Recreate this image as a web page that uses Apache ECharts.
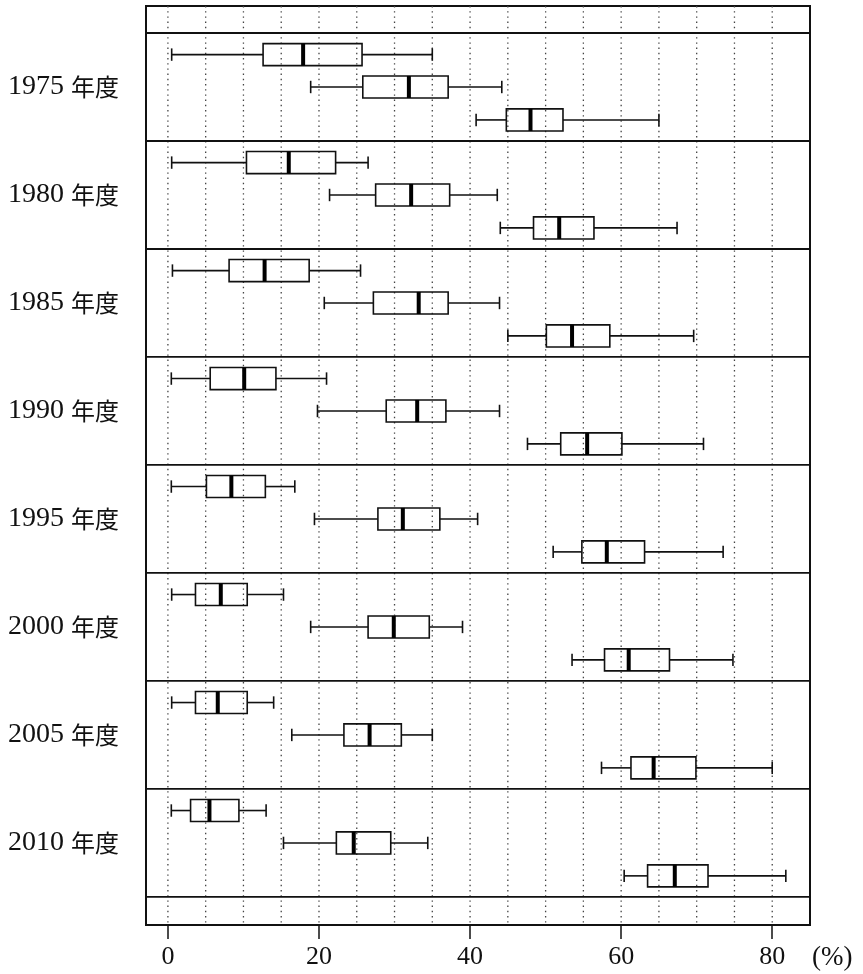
<!DOCTYPE html>
<html><head><meta charset="utf-8">
<script src="https://cdn.jsdelivr.net/npm/echarts@6/dist/echarts.min.js"></script>
<style>html,body{margin:0;padding:0;background:#fff}#c{width:863px;height:974px}</style>
</head><body><div id="c"></div>
<script>
// ---- data ----
const years = ['1975', '1980', '1985', '1990', '1995', '2000', '2005', '2010'];
// [lower whisker, Q1, median, Q3, upper whisker] in %
const primary = [
  [0.5, 12.6, 17.9, 25.7, 35.0],
  [0.5, 10.4, 16.0, 22.2, 26.5],
  [0.6, 8.1, 12.8, 18.7, 25.5],
  [0.45, 5.6, 10.1, 14.3, 21.0],
  [0.45, 5.1, 8.4, 12.9, 16.8],
  [0.5, 3.65, 7.0, 10.5, 15.3],
  [0.5, 3.65, 6.6, 10.5, 14.0],
  [0.45, 3.0, 5.5, 9.4, 13.0]
];
const secondary = [
  [18.9, 25.8, 31.9, 37.1, 44.2],
  [21.4, 27.5, 32.2, 37.3, 43.6],
  [20.7, 27.2, 33.2, 37.1, 43.9],
  [19.8, 28.9, 33.0, 36.8, 43.9],
  [19.4, 27.8, 31.1, 36.0, 41.0],
  [18.9, 26.5, 29.9, 34.6, 39.0],
  [16.4, 23.3, 26.7, 30.9, 35.0],
  [15.3, 22.3, 24.6, 29.5, 34.4]
];
const tertiary = [
  [40.8, 44.8, 48.0, 52.3, 65.0],
  [44.0, 48.4, 51.8, 56.4, 67.4],
  [45.0, 50.1, 53.5, 58.5, 69.6],
  [47.6, 52.0, 55.5, 60.1, 70.9],
  [51.0, 54.8, 58.1, 63.1, 73.5],
  [53.5, 57.8, 61.0, 66.4, 74.8],
  [57.4, 61.3, 64.3, 69.9, 80.0],
  [60.4, 63.5, 67.1, 71.5, 81.8]
];
const gridValues = [0, 5, 10, 15, 20, 25, 30, 35, 40, 45, 50, 55, 60, 65, 70, 75, 80];
const tickLabels = [0, 20, 40, 60, 80];

// ---- layout (panel units on the y value axis) ----
const STRIP = 0.25;
const BOX_OFFSETS = [0.2, 0.5, 0.805];
const Y_MAX = 8.51;
const X_MIN = -2.9, X_MAX = 85;

const boxData = [];
[primary, secondary, tertiary].forEach((arr, j) => {
  arr.forEach((v, i) => boxData.push([STRIP + i + BOX_OFFSETS[j]].concat(v)));
});
const sepData = [];
for (let k = 0; k <= years.length; k++) sepData.push([0, STRIP + k]);
const labelPos = years.map((y, i) => STRIP + i + 0.5);

function renderBox(params, api) {
  const y = api.value(0);
  const wl = api.coord([api.value(1), y]);
  const q1 = api.coord([api.value(2), y]);
  const md = api.coord([api.value(3), y]);
  const q3 = api.coord([api.value(4), y]);
  const wh = api.coord([api.value(5), y]);
  const h = api.size([0, 0.204])[1];
  const cap = api.size([0, 0.115])[1];
  const cy = wl[1];
  const ls = { stroke: '#111', lineWidth: 1.6, fill: null };
  return {
    type: 'group', children: [
      { type: 'line', shape: { x1: wl[0], y1: cy, x2: q1[0], y2: cy }, style: ls },
      { type: 'line', shape: { x1: q3[0], y1: cy, x2: wh[0], y2: cy }, style: ls },
      { type: 'line', shape: { x1: wl[0], y1: cy - cap / 2, x2: wl[0], y2: cy + cap / 2 }, style: ls },
      { type: 'line', shape: { x1: wh[0], y1: cy - cap / 2, x2: wh[0], y2: cy + cap / 2 }, style: ls },
      { type: 'rect', shape: { x: q1[0], y: cy - h / 2, width: q3[0] - q1[0], height: h }, style: { stroke: '#111', lineWidth: 1.6, fill: null } },
      { type: 'line', shape: { x1: md[0], y1: cy - h / 2, x2: md[0], y2: cy + h / 2 }, style: { stroke: '#000', lineWidth: 4 } }
    ]
  };
}
function renderGrid(params, api) {
  const p1 = api.coord([api.value(0), 0]);
  const p2 = api.coord([api.value(0), Y_MAX]);
  return { type: 'line', shape: { x1: p1[0], y1: p1[1], x2: p2[0], y2: p2[1] },
    style: { stroke: '#444', lineWidth: 1.3, lineDash: [1.4, 3.8], fill: null } };
}
function renderSep(params, api) {
  const p = api.coord([api.value(0), api.value(1)]);
  const cs = params.coordSys;
  return { type: 'line', shape: { x1: cs.x, y1: p[1], x2: cs.x + cs.width, y2: p[1] },
    style: { stroke: '#111', lineWidth: 1.8, fill: null } };
}

const chart = echarts.init(document.getElementById('c'));
chart.setOption({
  animation: false,
  backgroundColor: '#fff',
  grid: { left: 146, right: 53, top: 6, bottom: 49, show: true, borderColor: '#111', borderWidth: 2, backgroundColor: 'transparent' },
  xAxis: {
    type: 'value', min: X_MIN, max: X_MAX, position: 'bottom',
    axisLine: { show: false, onZero: false },
    splitLine: { show: false },
    axisTick: { show: true, length: 14, lineStyle: { color: '#111', width: 1.5 }, customValues: tickLabels },
    axisLabel: { customValues: tickLabels, margin: 19, color: '#111', fontFamily: 'Liberation Serif', fontSize: 26 }
  },
  yAxis: {
    type: 'value', min: 0, max: Y_MAX, inverse: true,
    axisLine: { show: false, onZero: false }, axisTick: { show: false }, splitLine: { show: false },
    axisLabel: {
      customValues: labelPos, margin: 27, color: '#111',
      formatter: function (v) {
        const i = Math.round(v - STRIP - 0.5);
        return (i >= 0 && i < years.length) ? '{d|' + years[i] + ' }{k|年度}' : '';
      },
      rich: {
        d: { fontFamily: 'Liberation Serif', fontSize: 28, color: '#111' },
        k: { fontFamily: 'Noto Sans CJK JP', fontSize: 24, color: '#111' }
      }
    }
  },
  graphic: [{
    type: 'text', left: 812, top: 944,
    style: { text: '(%)', font: '27px "Liberation Serif"', fill: '#111' }
  }],
  series: [
    { type: 'custom', renderItem: renderGrid, data: gridValues.map(v => [v, 0]), silent: true, z: 1 },
    { type: 'custom', renderItem: renderSep, data: sepData, silent: true, z: 2 },
    { type: 'custom', renderItem: renderBox, data: boxData, silent: true, z: 3, clip: false }
  ]
});
</script>
</body></html>
